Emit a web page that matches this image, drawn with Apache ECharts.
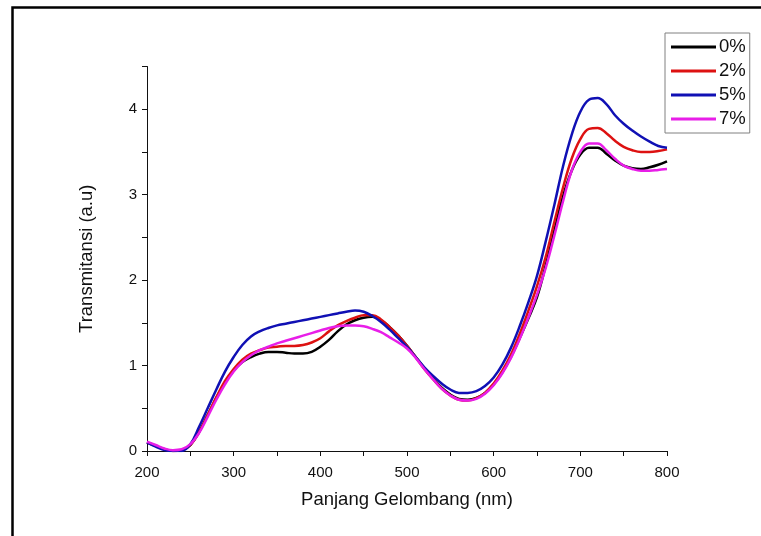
<!DOCTYPE html>
<html>
<head>
<meta charset="utf-8">
<script src="https://cdn.jsdelivr.net/npm/echarts@6/dist/echarts.min.js"></script>
<style>html,body{margin:0;padding:0;background:#fff}#c{width:761px;height:536px}</style>
</head>
<body>
<div id="c"></div>
<script>
const wavelengths = [];
for (let w = 200; w <= 800; w += 10) wavelengths.push(w);
const seriesNames = ['0%', '2%', '5%', '7%'];
const s0 = [0.10,0.06,0.02,0.00,0.01,0.07,0.22,0.42,0.62,0.80,0.94,1.04,1.10,1.14,1.16,1.16,1.15,1.14,1.14,1.16,1.22,1.30,1.40,1.48,1.53,1.56,1.57,1.53,1.45,1.35,1.23,1.10,0.97,0.85,0.74,0.66,0.61,0.60,0.62,0.68,0.78,0.92,1.10,1.32,1.55,1.80,2.17,2.58,2.98,3.28,3.47,3.55,3.55,3.48,3.40,3.34,3.31,3.30,3.32,3.35,3.39];
const s2 = [0.10,0.06,0.02,0.00,0.01,0.07,0.22,0.42,0.63,0.82,0.96,1.07,1.14,1.18,1.21,1.22,1.23,1.23,1.24,1.27,1.32,1.40,1.47,1.52,1.56,1.59,1.59,1.54,1.45,1.35,1.23,1.10,0.96,0.84,0.73,0.65,0.60,0.59,0.62,0.68,0.79,0.94,1.13,1.37,1.64,1.93,2.27,2.68,3.08,3.42,3.65,3.77,3.78,3.72,3.63,3.56,3.52,3.50,3.50,3.51,3.53];
const s5 = [0.10,0.05,0.01,0.00,0.00,0.08,0.28,0.50,0.72,0.93,1.10,1.24,1.34,1.40,1.44,1.47,1.49,1.51,1.53,1.55,1.57,1.59,1.61,1.63,1.645,1.63,1.58,1.51,1.42,1.32,1.22,1.10,0.98,0.88,0.79,0.72,0.68,0.68,0.70,0.76,0.86,1.01,1.21,1.46,1.74,2.05,2.45,2.88,3.33,3.70,3.97,4.11,4.13,4.06,3.93,3.83,3.75,3.68,3.62,3.57,3.55];
const s7 = [0.11,0.07,0.03,0.01,0.02,0.08,0.21,0.40,0.60,0.78,0.93,1.04,1.12,1.18,1.22,1.26,1.29,1.32,1.35,1.38,1.41,1.44,1.46,1.47,1.47,1.46,1.43,1.39,1.33,1.27,1.20,1.09,0.96,0.84,0.73,0.65,0.60,0.59,0.61,0.67,0.77,0.91,1.09,1.31,1.56,1.83,2.14,2.52,2.92,3.28,3.50,3.60,3.60,3.52,3.42,3.34,3.30,3.28,3.28,3.29,3.30];
const xTickLabels = [200, 300, 400, 500, 600, 700, 800];
const yTickLabels = [0, 1, 2, 3, 4];
const colors = ['#000000', '#dd1111', '#1010b4', '#e81ee8'];
const allData = [s0, s2, s5, s7];

const font = 'Liberation Sans, Arial, sans-serif';
const chart = echarts.init(document.getElementById('c'));
chart.setOption({
  animation: false,
  backgroundColor: '#fff',
  grid: { left: 147, right: 94, top: 66.5, bottom: 85, containLabel: false },
  xAxis: {
    type: 'value', min: 200, max: 800, interval: 50,
    name: 'Panjang Gelombang (nm)', nameLocation: 'middle', nameGap: 39,
    nameTextStyle: { fontFamily: font, fontSize: 18.5, color: '#111' },
    axisLine: { show: true, onZero: false, lineStyle: { color: '#111', width: 1 } },
    axisTick: { show: true, inside: false, length: 5, lineStyle: { color: '#111' } },
    axisLabel: { margin: 14, fontFamily: font, fontSize: 15, color: '#111',
      formatter: v => xTickLabels.includes(v) ? String(v) : '' },
    splitLine: { show: false }
  },
  yAxis: {
    type: 'value', min: 0, max: 4.5, interval: 0.5,
    name: 'Transmitansi (a.u)', nameLocation: 'middle', nameGap: 51,
    nameTextStyle: { fontFamily: font, fontSize: 18.5, color: '#111' },
    axisLine: { show: true, lineStyle: { color: '#111', width: 1 } },
    axisTick: { show: true, inside: false, length: 5, lineStyle: { color: '#111' } },
    axisLabel: { margin: 10, fontFamily: font, fontSize: 15, color: '#111',
      formatter: v => yTickLabels.includes(v) ? String(v) : '' },
    splitLine: { show: false }
  },
  legend: {
    orient: 'vertical', left: 665, top: 33,
    data: seriesNames,
    icon: 'rect', itemWidth: 45, itemHeight: 3, itemGap: 4,
    borderColor: '#808080', borderWidth: 1, padding: [4, 4, 4, 6],
    textStyle: { fontFamily: font, fontSize: 18.5, color: '#111', lineHeight: 20, padding: [0, 0, 0, -2] }
  },
  graphic: [{
    type: 'rect', left: 10, top: 5, silent: true,
    shape: { width: 900, height: 700 },
    style: { fill: 'none', stroke: '#000', lineWidth: 2.5 }
  }],
  series: seriesNames.map((n, i) => ({
    name: n, type: 'line', smooth: 0.4, showSymbol: false,
    data: wavelengths.map((w, j) => [w, allData[i][j]]),
    lineStyle: { color: colors[i], width: 2.5 },
    itemStyle: { color: colors[i] }
  }))
});
</script>
</body>
</html>
